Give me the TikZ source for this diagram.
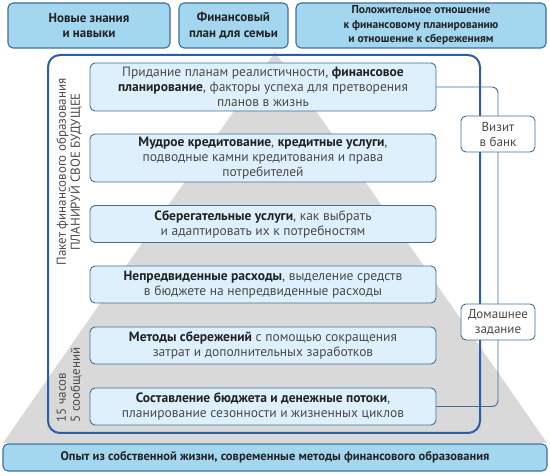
\documentclass[tikz,border=0pt]{standalone}
\usepackage{fontspec}
\setmainfont{PT Sans}
\usetikzlibrary{calc}

\definecolor{topfill}{HTML}{A3D7F0}
\definecolor{topdraw}{HTML}{3F6E9A}
\definecolor{boxfill}{HTML}{DDF0FB}
\definecolor{framecol}{HTML}{2B5EA6}
\definecolor{pyrgray}{HTML}{D9D9D9}
\definecolor{txt}{HTML}{4A4A4A}
\definecolor{txtb}{HTML}{222222}

\newcommand{\bt}[1]{\textbf{\textcolor{txtb}{#1}}}

\tikzset{
  top/.style={draw=topdraw,fill=topfill,rounded corners=5pt,line width=1.1pt,align=center,text=txtb,
    font=\bfseries\fontsize{13}{15.5}\selectfont,inner sep=0pt},
  level/.style={draw=topdraw,fill=boxfill,rounded corners=5pt,line width=0.9pt,align=center,text=txt,
    font=\fontsize{13.5}{15}\selectfont,minimum width=346pt,inner sep=0pt},
  side/.style={draw=topdraw,fill=white,rounded corners=5pt,line width=0.9pt,align=center,text=txt,
    font=\fontsize{13}{15}\selectfont,minimum width=74pt,minimum height=36pt,inner sep=0pt},
  rot/.style={rotate=90,text=txt,font=\fontsize{13}{14}\selectfont,inner sep=0pt}
}

\begin{document}
\begin{tikzpicture}[x=1pt,y=-1pt]
	\useasboundingbox (0,0) rectangle (550,476);
	
	% pyramid and frame
	\fill[pyrgray] (275,52) -- (547,443) -- (3,443) -- cycle;
	\draw[framecol,line width=2pt,rounded corners=12pt] (48,55) rectangle (480,433);
	
	\node[top,minimum width=162pt,minimum height=45pt](t1)at(89,25.5) {Новые знания\\и навыки};
	\node[top,minimum width=109pt,minimum height=45pt](t2)at(233.5,25.5) {Финансовый\\план для семьи};
	\node[top,minimum width=250pt,minimum height=45pt,font=\bfseries\fontsize{11.5}{14.5}\selectfont](t3)at(421,25.5) {Положительное отношение\\к финансовому планированию\\и отношение к сбережениям};
	\node[top,minimum width=544pt,minimum height=27pt,font=\bfseries\fontsize{12.5}{15}\selectfont](base)at(275,457.5) {Опыт из собственной жизни, современные методы финансового образования};
	
	\node[level,minimum height=48pt](1)at(263,87) {Придание планам реалистичности, \bt{финансовое}\\\bt{планирование}, факторы успеха для претворения\\планов в жизнь};
	\node[level,minimum height=48pt](2)at(263,158) {\bt{Мудрое кредитование}, \bt{кредитные услуги},\\подводные камни кредитования и права\\потребителей};
	\node[level,minimum height=37pt](3)at(263,224) {\bt{Сберегательные услуги}, как выбрать\\и адаптировать их к потребностям};
	\node[level,minimum height=37pt](4)at(263,284.5) {\bt{Непредвиденные расходы}, выделение средств\\в бюджете на непредвиденные расходы};
	\node[level,minimum height=37pt](5)at(263,345.5) {\bt{Методы сбережений} с помощью сокращения\\затрат и дополнительных заработков};
	\node[level,minimum height=37pt](6)at(263,406.5) {\bt{Составление бюджета и денежные потоки},\\планирование сезонности и жизненных циклов};
	
	\coordinate (r) at (498,0);
	\draw[topdraw,line width=0.9pt,rounded corners=6pt](1.east) -| (r |- 6.east) -- (6.east);
	
	\node[side](visit)at(498,134) {Визит\\в банк};
	\node[side](home)at(498,322) {Домашнее\\задание};
	
	\node[rot,align=center](pack)at(69,172) {Пакет финансового образования\\ПЛАНИРУЙ СВОЕ БУДУЩЕЕ};
	\node[rot,align=left](hours)at(69,385) {15 часов\\5 сообщений};
\end{tikzpicture}
\end{document}
